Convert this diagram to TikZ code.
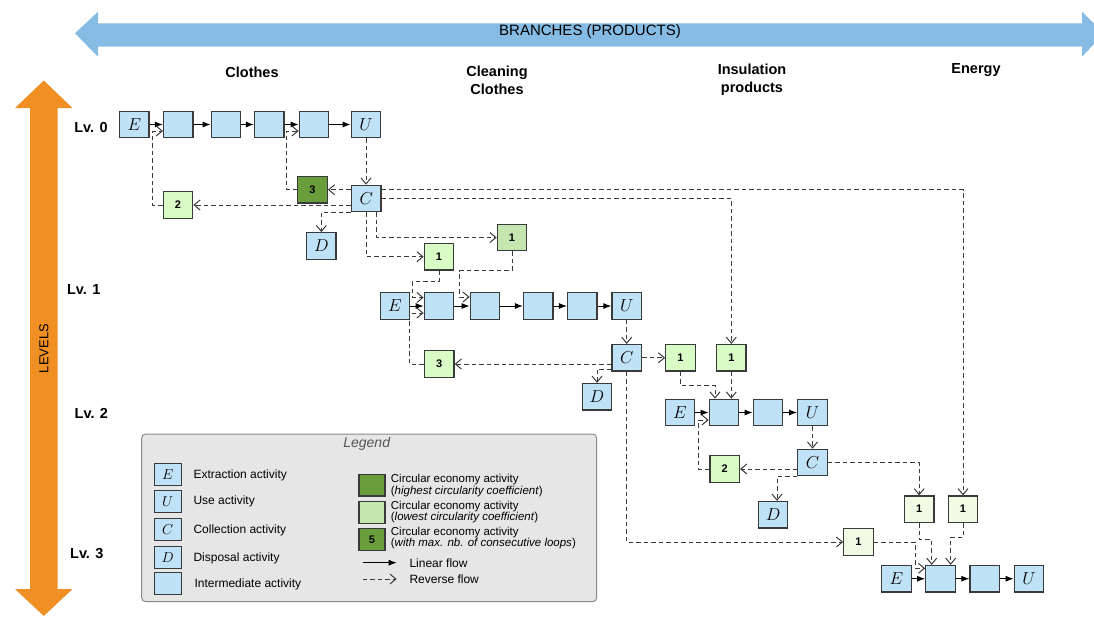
\documentclass[tikz,border=0pt]{standalone}
\usepackage{fontspec}
\setmainfont{Liberation Sans}
\usetikzlibrary{arrows.meta}
\definecolor{actblue}{HTML}{C0E2F6}
\definecolor{boxdraw}{HTML}{3A3A3A}
\definecolor{lightgreen}{HTML}{D9FCC6}
\definecolor{midgreen}{HTML}{C6E6AF}
\definecolor{palegreen}{HTML}{EFFBE4}
\definecolor{darkgreen}{HTML}{6A9E3C}
\definecolor{revgray}{HTML}{3A3A3A}
\definecolor{branchblue}{HTML}{86BBE4}
\definecolor{levorange}{HTML}{F08F23}
\definecolor{legfill}{HTML}{E6E6E6}
\definecolor{legdraw}{HTML}{8A8A8A}
\definecolor{legtitle}{HTML}{555555}
\begin{document}
\begin{tikzpicture}[x=1pt,y=-1pt,
  act/.style={draw=boxdraw, line width=1.2pt, fill=actblue, minimum width=29.5pt, minimum height=26.5pt, inner sep=0pt, font=\fontsize{17.28}{17.28}\selectfont},
  numbox/.style={act, font=\bfseries\fontsize{11}{11}\selectfont},
  lgbox/.style={numbox, fill=lightgreen},
  mgbox/.style={numbox, fill=midgreen},
  pgbox/.style={numbox, fill=palegreen},
  dgbox/.style={numbox, fill=darkgreen},
  legact/.style={act, minimum width=27pt, minimum height=22pt, font=\fontsize{14.4}{14.4}\selectfont},
  legce/.style={numbox, minimum width=26pt, minimum height=21.7pt},
  lin/.style={draw=black, line width=1pt, -{Latex[length=8pt,width=6pt]}},
  rev/.style={draw=revgray, line width=1pt, dash pattern=on 4.5pt off 3pt, -{Straight Barb[length=6pt,width=10pt]}},
  lvl/.style={font=\bfseries\fontsize{14.5}{14.5}\selectfont},
  branch/.style={font=\bfseries\fontsize{14.5}{18}\selectfont, align=center},
  legtext/.style={anchor=west, font=\fontsize{12}{12}\selectfont, inner sep=0pt},
  legtext2/.style={anchor=west, font=\fontsize{11.5}{10.5}\selectfont, align=left, inner sep=0pt}
]
\useasboundingbox (0,0) rectangle (1094,619);
\clip (0,0) rectangle (1094,619);

% big arrows
\fill[branchblue] (75,33.3) -- (98,11.7) -- (98,23.3) -- (1082,23.3) -- (1082,11.7) -- (1104,33.3) -- (1082,56.7) -- (1082,46.7) -- (98,46.7) -- (98,56.7) -- cycle;
\node[font=\fontsize{15}{15}\selectfont] (branches) at (590,31.5) {BRANCHES (PRODUCTS)};
\fill[levorange] (43.8,80.5) -- (72.5,108) -- (57.5,108) -- (57.5,589) -- (72.5,589) -- (43.8,616) -- (15,589) -- (30,589) -- (30,108) -- (15,108) -- cycle;
\node[rotate=90, font=\fontsize{13}{13}\selectfont] (levels) at (43.8,348.5) {LEVELS};

% labels
\node[lvl] (lv0) at (91,127.5) {Lv. 0};
\node[lvl] (lv1) at (83.7,289.5) {Lv. 1};
\node[lvl] (lv2) at (91.4,413) {Lv. 2};
\node[lvl] (lv3) at (86.8,554) {Lv. 3};
\node[branch] (bclothes) at (252,72.7) {Clothes};
\node[branch] (bclean) at (497,80) {Cleaning\\Clothes};
\node[branch] (binsul) at (752,80) {Insulation\\products};
\node[branch] (benergy) at (976,70) {Energy};

% Level 0
\node[act] (E0) at (134.3,124.5) {$E$};
\node[act] (a01) at (178.3,124.5) {};
\node[act] (a02) at (226,124.5) {};
\node[act] (a03) at (269.3,124.5) {};
\node[act] (a04) at (314,124.5) {};
\node[act] (U0) at (366,124.5) {$U$};
\node[act] (C0) at (366.3,198.5) {$C$};
\node[dgbox] (g3) at (312.5,189.7) {3};
\node[lgbox] (g2) at (178,205) {2};
\node[act] (D0) at (321.3,246) {$D$};

% Level 1
\node[lgbox] (l1a) at (439,256.7) {1};
\node[mgbox] (m1) at (512,237.5) {1};
\node[act] (E1) at (395,306) {$E$};
\node[act] (a11) at (439,306) {};
\node[act] (a12) at (485,306) {};
\node[act] (a13) at (538.3,306) {};
\node[act] (a14) at (582.3,306) {};
\node[act] (U1) at (626.7,306) {$U$};
\node[act] (C1) at (626.7,357.8) {$C$};
\node[lgbox] (g13) at (439.3,364) {3};
\node[act] (D1) at (597,396.7) {$D$};

% Level 2
\node[lgbox] (l2a) at (680.5,357.8) {1};
\node[lgbox] (l2b) at (731.3,357.8) {1};
\node[act] (E2) at (680,412.5) {$E$};
\node[act] (a21) at (724,412.5) {};
\node[act] (a22) at (768,412.5) {};
\node[act] (U2) at (812.5,412.5) {$U$};
\node[act] (C2) at (812.5,462.5) {$C$};
\node[lgbox] (g22) at (724.7,469) {2};
\node[act] (D2) at (773,514.7) {$D$};

% Level 3
\node[pgbox] (p3a) at (919.2,509.2) {1};
\node[pgbox] (p3b) at (963,509.2) {1};
\node[pgbox] (p3c) at (858.5,542) {1};
\node[act] (E3) at (896.5,578.7) {$E$};
\node[act] (a31) at (940.5,578.7) {};
\node[act] (a32) at (984.7,578.7) {};
\node[act] (U3) at (1029,578.7) {$U$};

% linear flows
\draw[lin] (E0) -- (a01);
\draw[lin] (a01) -- (a02);
\draw[lin] (a02) -- (a03);
\draw[lin] (a03) -- (a04);
\draw[lin] (a04) -- (U0);
\draw[lin] (E1) -- (a11);
\draw[lin] (a11) -- (a12);
\draw[lin] (a12) -- (a13);
\draw[lin] (a13) -- (a14);
\draw[lin] (a14) -- (U1);
\draw[lin] (E2) -- (a21);
\draw[lin] (a21) -- (a22);
\draw[lin] (a22) -- (U2);
\draw[lin] (E3) -- (a31);
\draw[lin] (a31) -- (a32);
\draw[lin] (a32) -- (U3);

% reverse flows level 0
\draw[rev] (U0.south) -- (U0.south |- C0.north);
\draw[rev] (C0.west |- g3) -- (g3.east);
\draw[rev] (C0.west |- g2) -- (g2.east);
\draw[rev] (C0.south west) -| (D0.north);
\draw[rev] (g2.west) -- ++(-10,0) |- ([yshift=-6.5pt]a01.west);
\draw[rev] (g3.west) -- ++(-10.5,0) |- ([yshift=-6.5pt]a04.west);
\draw[rev] (C0.south) |- (l1a.west);
\draw[rev] ([xshift=10.5pt]C0.south) |- (m1.west);
\draw[rev] (C0.east) -| (l2b.north);
\draw[rev] ([yshift=9pt]C0.east) -| (p3b.north);

% reverse flows level 1
\draw[rev] (l1a.south) -- ++(0,11) -| ([xshift=-11.3pt,yshift=8.5pt]a11.west) -- ([yshift=8.5pt]a11.west);
\draw[rev] (m1.south) -- ++(0,19.3) -| ([xshift=-10pt,yshift=9pt]a12.west) -- ([yshift=9pt]a12.west);
\draw[rev] (g13.west) -| ([xshift=-14pt,yshift=-7pt]a11.west) -- ([yshift=-7pt]a11.west);
\draw[rev] (U1.south) -- (C1.north);
\draw[rev] (C1.west |- g13) -- (g13.east);
\draw[rev] ([yshift=2.4pt]C1.south west) -| (D1.north);
\draw[rev] (C1.east) -- (l2a.west);
\draw[rev] (C1.south) |- (p3c.west);

% reverse flows level 2
\draw[rev] (l2a.south) -- ++(0,13.6) -| ([xshift=-9pt]a21.north);
\draw[rev] (l2b.south) -- ([xshift=7.3pt]a21.north);
\draw[rev] (g22.west) -- ++(-11,0) |- ([yshift=-7.5pt]a21.west);
\draw[rev] (U2.south) -- (C2.north);
\draw[rev] (C2.west |- g22) -- (g22.east);
\draw[rev] (C2.south west) -| ([xshift=4pt]D2.north);
\draw[rev] (C2.east) -| (p3a.north);

% reverse flows level 3
\draw[rev] (p3a.south) -- ++(0,16.7) -| ([xshift=-8.8pt]a31.north);
\draw[rev] (p3b.south) -- ++(0,14.4) -| ([xshift=10.2pt]a31.north);
\draw[rev] (p3c.east) -- ++(41.7,0) |- ([yshift=10.4pt]a31.west);

% legend
\draw[fill=legfill, draw=legdraw, line width=1pt, rounded corners=4pt] (141.7,434) rectangle (596.7,601.7);
\node[font=\itshape\fontsize{14}{14}\selectfont, text=legtitle] (legtitle) at (366.7,443.5) {Legend};
\node[legact] (lE) at (167.7,474.2) {$E$};
\node[legact] (lU) at (167.7,501.8) {$U$};
\node[legact] (lC) at (167.7,529.5) {$C$};
\node[legact] (lD) at (167.7,557.2) {$D$};
\node[legact] (lI) at (167.7,583.5) {};
\node[legtext] (tE) at (193.3,475) {Extraction activity};
\node[legtext] (tU) at (193.3,501.7) {Use activity};
\node[legtext] (tC) at (193.3,530.7) {Collection activity};
\node[legtext] (tD) at (193.3,558.7) {Disposal activity};
\node[legtext] (tI) at (194.3,584.3) {Intermediate activity};
\node[legce, fill=darkgreen] (ldg) at (372,485.2) {};
\node[legce, fill=midgreen] (llg) at (372,512.5) {};
\node[legce, fill=darkgreen] (l5) at (372,539.7) {5};
\node[legtext2] (tdg) at (390.7,485.7) {Circular economy activity\\(\textit{highest circularity coefficient})};
\node[legtext2] (tlg) at (390.7,512) {Circular economy activity\\(\textit{lowest circularity coefficient})};
\node[legtext2] (t5) at (390.7,538) {Circular economy activity\\(\textit{with max. nb. of consecutive loops})};
\coordinate (llinA) at (362.7,562.7);
\coordinate (llinB) at (396.7,562.7);
\coordinate (lrevA) at (362.7,579);
\coordinate (lrevB) at (396.7,579);
\draw[lin] (llinA) -- (llinB);
\draw[rev] (lrevA) -- (lrevB);
\node[legtext] (tlin) at (409.3,562.7) {Linear flow};
\node[legtext] (trev) at (409.3,579) {Reverse flow};
\end{tikzpicture}
\end{document}
